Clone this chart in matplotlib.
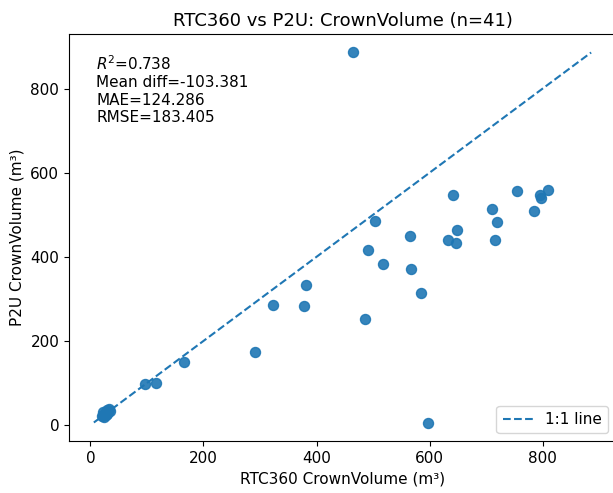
import numpy as np
import matplotlib
matplotlib.use("Agg")
import matplotlib.pyplot as plt

# RTC360 vs P2U crown volume (m3), one pair per tree
rtc360 = [20, 22, 24, 25, 27, 28, 30, 31, 33, 26, 23, 34, 29,
          96, 116, 165,
          291, 323, 381, 378, 485, 503, 492, 518, 565, 568, 585, 598,
          642, 632, 649, 647, 710, 719, 715, 755, 785, 796, 798, 809,
          465]
p2u = [22, 25, 20, 28, 24, 32, 35, 30, 38, 26, 30, 33, 27,
       98, 99, 150,
       174, 286, 334, 283, 252, 486, 417, 383, 449, 371, 314, 6,
       547, 441, 464, 433, 514, 482, 440, 556, 510, 548, 540, 559,
       886]

stats_text = "$R^2$=0.738\nMean diff=-103.381\nMAE=124.286\nRMSE=183.405"

x = np.array(rtc360)
y = np.array(p2u)

fig = plt.figure(figsize=(6.13, 4.93), dpi=100)
ax = fig.add_axes([69 / 613, 52 / 493, 547 / 613, 407 / 493])

ax.scatter(x, y, s=52, color="#1f77b4", alpha=0.9)

lo = min(x.min(), y.min())
hi = max(x.max(), y.max())
ax.plot([lo, hi], [lo, hi], "--", color="#1f77b4", linewidth=1.5, label="1:1 line")

ax.text(0.05, 0.95, stats_text, transform=ax.transAxes, va="top", ha="left", fontsize=11)

ax.set_title("RTC360 vs P2U: CrownVolume (n=41)", fontsize=13)
ax.set_xlabel("RTC360 CrownVolume (m³)", fontsize=11)
ax.set_ylabel("P2U CrownVolume (m³)", fontsize=11)
ax.tick_params(labelsize=11)
ax.legend(loc="lower right", fontsize=11)

fig.savefig("out.png", dpi=100)
